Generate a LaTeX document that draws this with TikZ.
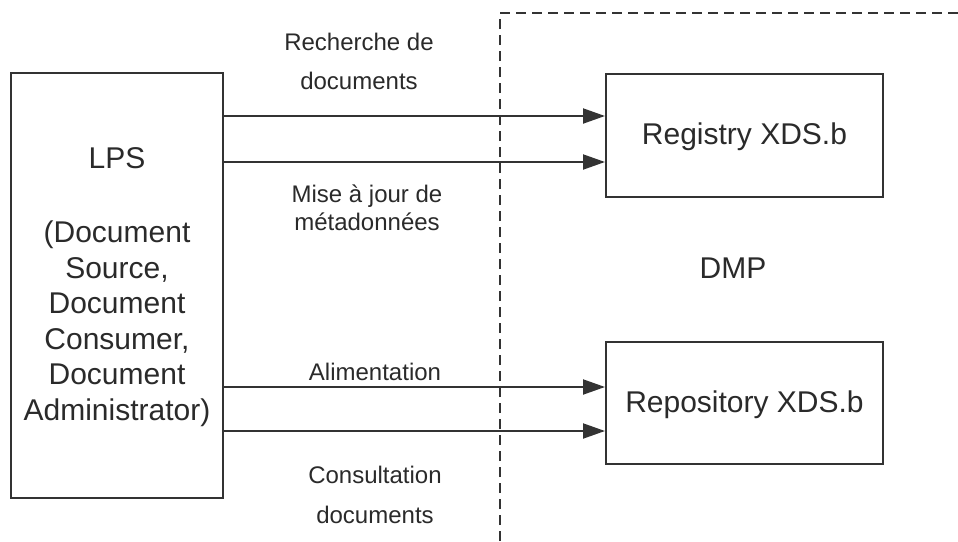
\documentclass[tikz,border=0pt]{standalone}
\usepackage{fontspec}
\setmainfont{Liberation Sans}
\usetikzlibrary{arrows.meta}
\definecolor{ln}{HTML}{333333}
\definecolor{tx}{HTML}{2A2A2A}
\tikzset{
  box/.style={draw=ln, line width=2pt, fill=none, inner sep=0pt},
  big/.style={text=tx, font=\fontsize{30}{35.5}\selectfont, inner sep=0pt},
  small/.style={text=tx, font=\fontsize{24}{28}\selectfont, inner sep=0pt, anchor=base},
  arr/.style={draw=ln, line width=2pt, -{Triangle[length=22pt,width=15pt]}},
  dashline/.style={draw=ln, line width=2pt, dash pattern=on 10pt off 6pt}
}
\begin{document}
\begin{tikzpicture}[x=1pt,y=-1pt]
\useasboundingbox (0,0) rectangle (958,541);
% boxes
\node[box, minimum width=212pt, minimum height=425pt] (lps) at (117,285.5) {};
\node[box, minimum width=277pt, minimum height=123pt] (reg) at (744.5,135.5) {};
\node[box, minimum width=277pt, minimum height=122pt] (rep) at (744.5,403) {};
% DMP boundary
\coordinate (dtop) at (500,13);
\coordinate (dbot) at (500,541);
\coordinate (dright) at (958,13);
\draw[dashline] (dbot) -- (dtop) -- (dright);
% texts
\node[big, anchor=base] (tlps) at (117,168) {LPS};
\node[big, anchor=base, align=center] (tlps2) at (117,420) {(Document\\Source,\\Document\\Consumer,\\Document\\Administrator)};
\node[big, anchor=base] (treg) at (744.5,144) {Registry XDS.b};
\node[big, anchor=base] (trep) at (744.5,412) {Repository XDS.b};
\node[big, anchor=base] (dmp) at (733,278) {DMP};
% arrows
\coordinate (y1) at (0,116);
\coordinate (y2) at (0,162);
\coordinate (y3) at (0,387);
\coordinate (y4) at (0,431);
\draw[arr] (lps.east |- y1) -- (reg.west |- y1);
\draw[arr] (lps.east |- y2) -- (reg.west |- y2);
\draw[arr] (lps.east |- y3) -- (rep.west |- y3);
\draw[arr] (lps.east |- y4) -- (rep.west |- y4);
% labels
\node[small] (l1a) at (359,50) {Recherche de};
\node[small] (l1b) at (359,89) {documents};
\node[small] (l2a) at (367,202) {Mise à jour de};
\node[small] (l2b) at (367,230) {métadonnées};
\node[small] (l3) at (375,380) {Alimentation};
\node[small] (l4a) at (375,483) {Consultation};
\node[small] (l4b) at (375,523) {documents};
\end{tikzpicture}
\end{document}
